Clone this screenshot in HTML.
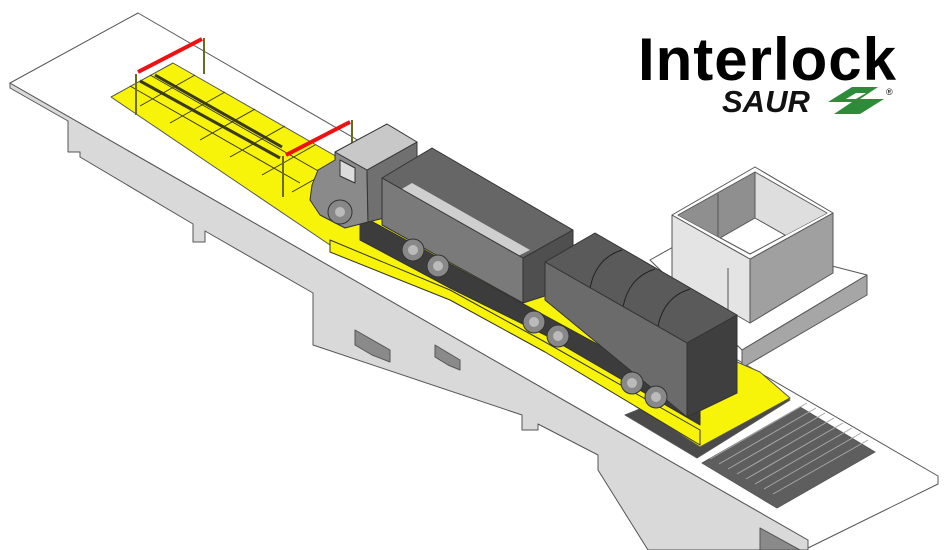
<!DOCTYPE html>
<html><head><meta charset="utf-8"><style>
html,body{margin:0;padding:0;background:#fff;width:950px;height:550px;overflow:hidden}
svg{display:block}
</style></head><body>
<svg width="950" height="550" viewBox="0 0 950 550" xmlns="http://www.w3.org/2000/svg">
<defs>
<clipPath id="inner"><polygon points="678,215 755,172 827,213 750,254"/></clipPath>
</defs>
<g stroke="#555" stroke-width="1" stroke-linejoin="round">
<polygon fill="#d9d9d9" points="10,83 808,540 808,550 648,550 598,470 598,455 538,424 538,430 522,430 522,415 313,345 313,293 205,231 205,242 193,242 193,224 80,157 80,152 68,152 68,121 10,88"/>
<polygon fill="#8a8a8a" points="355,330 390,350 390,362 372,355 355,345"/>
<polygon fill="#8a8a8a" points="435,345 460,360 460,370 448,365 435,357"/>
<polygon fill="#8a8a8a" points="760,528 800,550 760,550"/>
<polygon fill="#fff" points="10,83 138,13 938,476 938,484 808,548 808,540"/>
<polygon fill="#fff" points="650,260 700,232 867,275 742,350"/>
<polygon fill="#a6a6a6" points="742,350 867,275 867,295 742,368"/>
<polygon fill="#e4e4e4" points="672,215 750,259 750,323 672,278"/>
<polygon fill="#a0a0a0" points="750,259 833,213 833,273 750,323"/>
<polygon fill="#fff" points="672,215 755,167 833,213 750,259"/>
<polygon fill="#fff" points="678,215 755,172 827,213 750,254"/>
<g clip-path="url(#inner)">
<polygon fill="#8f8f8f" points="678,215 755,172 755,218 678,262"/>
<polygon fill="#dedede" points="755,172 827,213 827,259 755,218"/>
<line x1="718" y1="194" x2="718" y2="240"/>
</g>
<polyline fill="none" points="728,268 728,318 735,322"/>
<polygon fill="#5e5e5e" points="702,463 800,407 875,452 777,508"/>
<polygon fill="#4a4a4a" points="625,415 740,368 790,400 697,458"/>
<polygon fill="#f7f40a" points="111,97 173,63 360,170 560,285 760,372 790,398 700,447 545,347 450,295 330,245"/>
</g>
<g stroke="#3a3a20" stroke-width="1">
<line x1="130" y1="86" x2="300" y2="183"/>
<line x1="150" y1="75" x2="320" y2="172"/>
<line x1="140" y1="81" x2="280" y2="158" stroke-width="3"/>
<line x1="155" y1="75" x2="282" y2="147" stroke-width="3"/>
<line x1="140" y1="106" x2="195" y2="75"/><line x1="170" y1="123" x2="225" y2="92"/>
<line x1="200" y1="140" x2="255" y2="109"/><line x1="230" y1="157" x2="285" y2="126"/>
<line x1="262" y1="175" x2="315" y2="145"/><line x1="292" y1="192" x2="340" y2="165"/>
</g>
<g stroke="#a8a8a8" stroke-width="1">
<line x1="710" y1="459" x2="807" y2="403"/><line x1="719" y1="464" x2="816" y2="408"/>
<line x1="728" y1="469" x2="825" y2="413"/><line x1="737" y1="474" x2="834" y2="418"/>
<line x1="746" y1="479" x2="843" y2="423"/><line x1="755" y1="484" x2="852" y2="428"/>
<line x1="764" y1="489" x2="861" y2="433"/><line x1="773" y1="494" x2="868" y2="440"/>
</g>
<g stroke="#6b6b20" stroke-width="2" fill="none">
<line x1="136" y1="74" x2="136" y2="115"/><line x1="204" y1="38" x2="204" y2="74"/>
<line x1="283" y1="156" x2="283" y2="197"/><line x1="352" y1="120" x2="352" y2="143"/>
</g>
<g stroke="#ee1111" stroke-width="4"><line x1="138" y1="72" x2="202" y2="39"/><line x1="286" y1="155" x2="350" y2="122"/></g>
<g stroke="#333" stroke-width="1" stroke-linejoin="round">
<polygon fill="#3c3c3c" points="360,215 700,400 700,425 545,335 450,288 360,240"/>
<polygon fill="#f7f40a" points="330,240 450,290 545,342 700,430 700,445 545,352 450,300 330,252"/>
<polygon fill="#8a8a8a" points="310,200 312,185 318,170 335,160 335,152 367,170 368,222 345,228 320,215"/>
<polygon fill="#707070" points="367,170 417,142 417,210 368,222"/>
<polygon fill="#c8c8c8" points="335,152 387,124 417,142 367,170"/>
<polygon fill="#dcdcdc" points="340,160 355,168 355,183 340,176"/>
<!-- trailer1 -->
<polygon fill="#666" points="382,178 432,148 573,230 523,258"/>
<polygon fill="#cfcfcf" stroke="none" points="400,190 412,183 530,250 518,256"/>
<polygon fill="#7a7a7a" points="382,178 523,258 523,303 382,225"/>
<polygon fill="#4f4f4f" points="523,258 573,230 573,287 523,303"/>
<!-- trailer2 -->
<polygon fill="#5a5a5a" points="545,262 595,233 737,315 687,343"/>
<path d="M622,250 Q596,258 590,288 M655,269 Q629,277 623,307 M690,289 Q664,297 658,326" fill="none" stroke="#222"/>
<polygon fill="#6b6b6b" points="545,262 687,343 687,417 545,300"/>
<polygon fill="#3f3f3f" points="687,343 737,315 737,393 687,417"/>
</g>
<g stroke="#333" fill="#888">
<circle cx="340" cy="212" r="12"/><circle cx="413" cy="250" r="11"/><circle cx="438" cy="266" r="11"/>
<circle cx="534" cy="322" r="11"/><circle cx="558" cy="336" r="11"/><circle cx="632" cy="383" r="11"/><circle cx="656" cy="397" r="11"/>
</g>
<g fill="#bbb"><circle cx="340" cy="212" r="5"/><circle cx="413" cy="250" r="5"/><circle cx="438" cy="266" r="5"/><circle cx="534" cy="322" r="5"/><circle cx="558" cy="336" r="5"/><circle cx="632" cy="383" r="5"/><circle cx="656" cy="397" r="5"/></g>
<text x="638" y="80" font-family="Liberation Sans, sans-serif" font-weight="bold" font-size="60" fill="#000" textLength="258">Interlock</text>
<text x="722" y="112" font-family="Liberation Sans, sans-serif" font-weight="bold" font-style="italic" font-size="31" fill="#111">SAUR</text>
<polygon fill="#2e8b3a" points="852,87 878,87 860,99 884,99 860,114 834,114 852,102 828,102"/>
<polygon fill="#fff" points="846,99 856,93 866,93 856,99"/>
<text x="886" y="95" font-family="Liberation Sans, sans-serif" font-size="9" fill="#000">®</text>
</svg>
</body></html>
